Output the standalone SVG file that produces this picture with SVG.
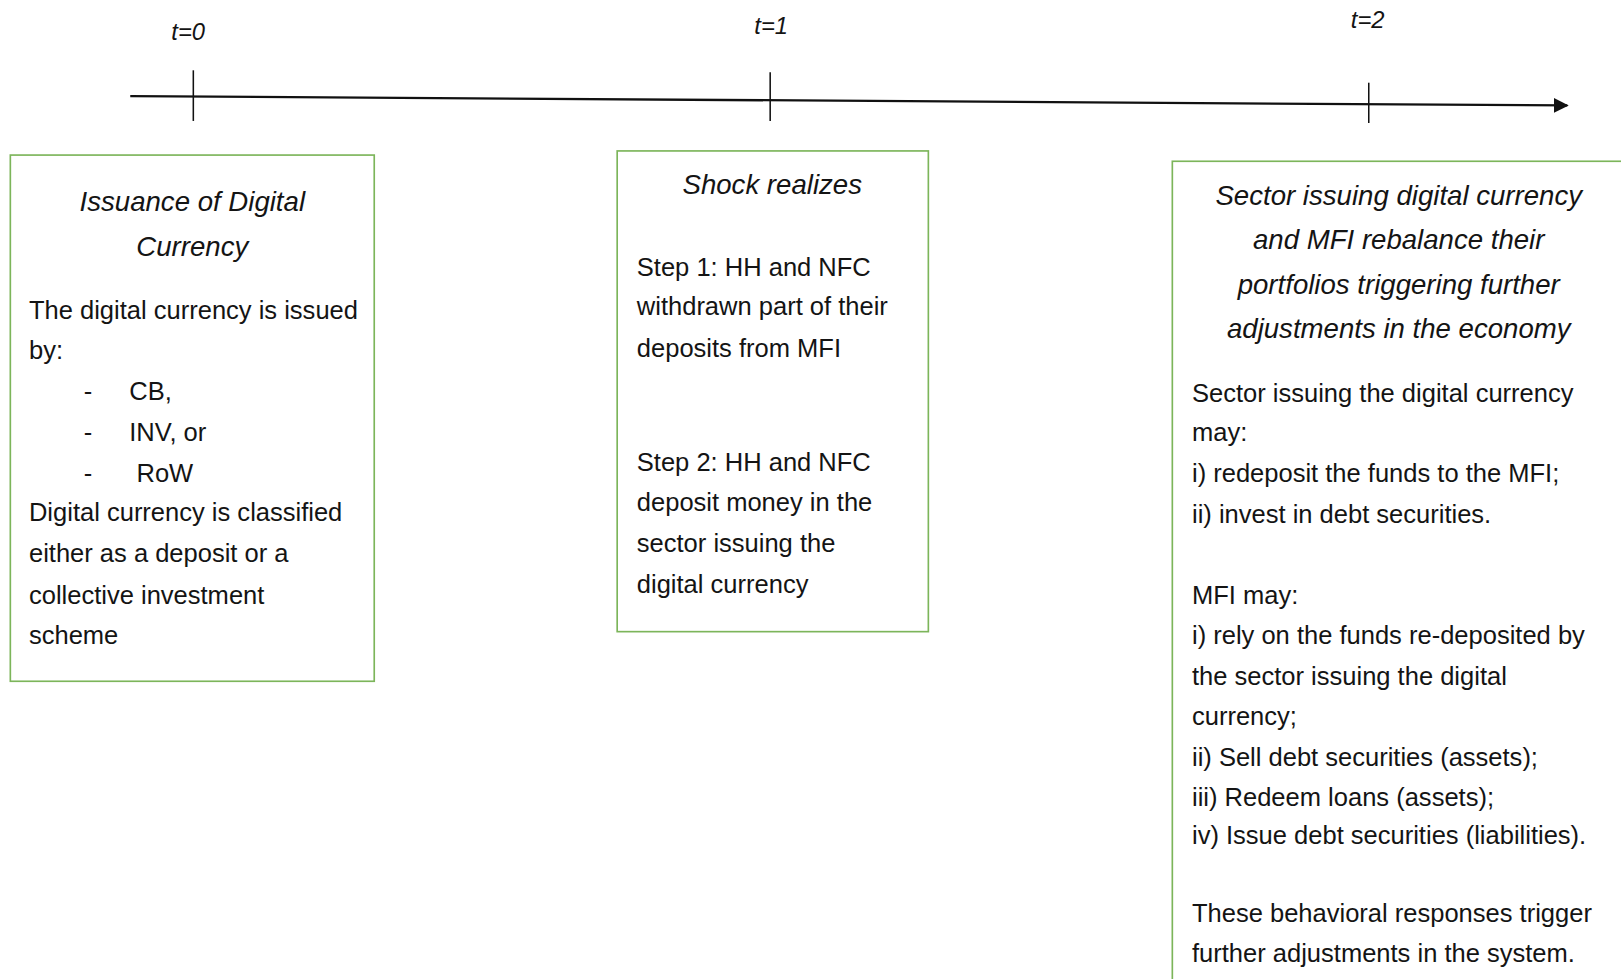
<svg xmlns="http://www.w3.org/2000/svg" width="1621" height="979" viewBox="0 0 1621 979">
<defs>
<style>
.bg{fill:#ffffff}
.box{fill:#ffffff;stroke:#7cb55a;stroke-width:1.6}
.axis{stroke:#111111;stroke-width:2.2;fill:none}
.tick{stroke:#111111;stroke-width:1.5}
.t{font-family:"Liberation Sans",Arial,sans-serif;font-size:24.7px;fill:#141414}
.ti{font-family:"Liberation Sans",Arial,sans-serif;font-size:26.7px;font-style:italic;fill:#141414;text-anchor:middle}
.lab{font-family:"Liberation Sans",Arial,sans-serif;font-size:23px;font-style:italic;fill:#141414;text-anchor:middle}
</style>
<marker id="arr" viewBox="0 0 10 10" refX="9" refY="5" markerWidth="6.5" markerHeight="7.5" orient="auto" markerUnits="strokeWidth">
<path d="M0,0 L10,5 L0,10 z" fill="#111111"/>
</marker>
</defs>
<rect class="bg" x="0" y="0" width="1621" height="979"/>
<g transform="scale(1.0338)">
<g id="connectors">
<line class="axis" x1="126" y1="93" x2="1516" y2="102" marker-end="url(#arr)"/>
</g>
<g id="tick0">
<line class="tick" x1="187" y1="68" x2="187" y2="117"/>
<text class="lab" x="182" y="39">t=0</text>
</g>
<g id="tick1">
<line class="tick" x1="745" y1="70" x2="745" y2="117"/>
<text class="lab" x="746" y="33">t=1</text>
</g>
<g id="tick2">
<line class="tick" x1="1324" y1="80" x2="1324" y2="119"/>
<text class="lab" x="1323" y="27">t=2</text>
</g>
<g id="box0">
<rect class="box" x="10" y="150" width="352" height="509"/>
<text class="ti" x="186" y="204">Issuance of Digital</text>
<text class="ti" x="186" y="248">Currency</text>
<text class="t" x="28" y="309">The digital currency is issued</text>
<text class="t" x="28" y="347">by:</text>
<text class="t" x="81" y="387">-</text>
<text class="t" x="125" y="387">CB,</text>
<text class="t" x="81" y="427">-</text>
<text class="t" x="125" y="427">INV, or</text>
<text class="t" x="81" y="466">-</text>
<text class="t" x="132" y="466">RoW</text>
<text class="t" x="28" y="504">Digital currency is classified</text>
<text class="t" x="28" y="544">either as a deposit or a</text>
<text class="t" x="28" y="584">collective investment</text>
<text class="t" x="28" y="623">scheme</text>
</g>
<g id="box1">
<rect class="box" x="597" y="146" width="301" height="465"/>
<text class="ti" x="747" y="188">Shock realizes</text>
<text class="t" x="616" y="267">Step 1: HH and NFC</text>
<text class="t" x="616" y="305">withdrawn part of their</text>
<text class="t" x="616" y="345">deposits from MFI</text>
<text class="t" x="616" y="456">Step 2: HH and NFC</text>
<text class="t" x="616" y="494">deposit money in the</text>
<text class="t" x="616" y="534">sector issuing the</text>
<text class="t" x="616" y="574">digital currency</text>
</g>
<g id="box2">
<rect class="box" x="1134" y="156" width="460" height="820"/>
<text class="ti" x="1353" y="198">Sector issuing digital currency</text>
<text class="ti" x="1353" y="241">and MFI rebalance their</text>
<text class="ti" x="1353" y="284">portfolios triggering further</text>
<text class="ti" x="1353" y="327">adjustments in the economy</text>
<text class="t" x="1153" y="389">Sector issuing the digital currency</text>
<text class="t" x="1153" y="427">may:</text>
<text class="t" x="1153" y="466">i) redeposit the funds to the MFI;</text>
<text class="t" x="1153" y="506">ii) invest in debt securities.</text>
<text class="t" x="1153" y="584">MFI may:</text>
<text class="t" x="1153" y="623">i) rely on the funds re-deposited by</text>
<text class="t" x="1153" y="663">the sector issuing the digital</text>
<text class="t" x="1153" y="701">currency;</text>
<text class="t" x="1153" y="741">ii) Sell debt securities (assets);</text>
<text class="t" x="1153" y="780">iii) Redeem loans (assets);</text>
<text class="t" x="1153" y="816">iv) Issue debt securities (liabilities).</text>
<text class="t" x="1153" y="892">These behavioral responses trigger</text>
<text class="t" x="1153" y="931">further adjustments in the system.</text>
</g>
</g>
</svg>
